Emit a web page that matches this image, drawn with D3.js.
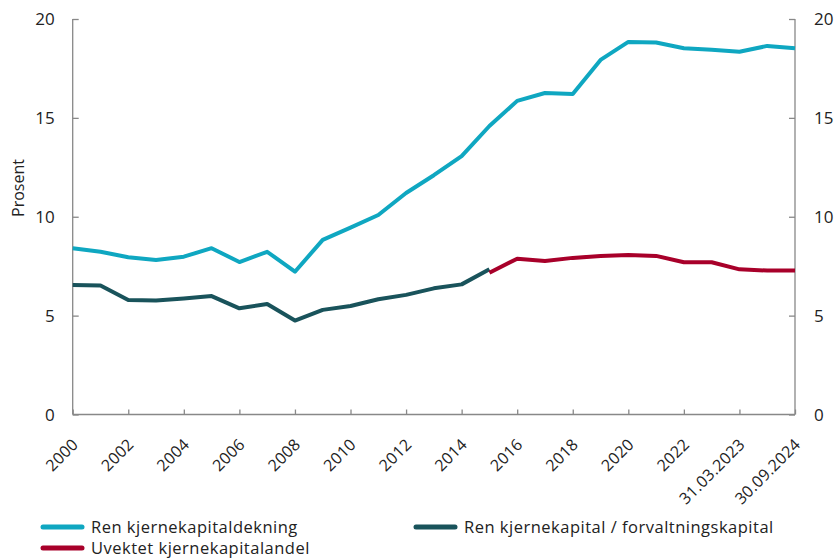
<!DOCTYPE html>
<html><head><meta charset="utf-8">
<script src="https://cdn.jsdelivr.net/npm/d3@7"></script>
<style>
body{margin:0;background:#fff;}
text{font-family:"Open Sans",sans-serif;fill:#222;}
</style></head>
<body><svg id="c" width="840" height="558"></svg>
<script>
const categories = ["2000","2001","2002","2003","2004","2005","2006","2007","2008","2009","2010","2011","2012","2013","2014","2015","2016","2017","2018","2019","2020","2021","2022","2023","31.03.2023","30.06.2024","30.09.2024"];
const renKjernekapitaldekning = [8.41,8.23,7.95,7.81,7.98,8.41,7.71,8.23,7.22,8.83,9.45,10.09,11.2,12.1,13.07,14.59,15.86,16.26,16.21,17.93,18.84,18.81,18.52,18.44,18.34,18.64,18.52];
const renKjernekapitalForvaltning = [6.55,6.52,5.79,5.76,5.86,5.99,5.37,5.59,4.75,5.29,5.49,5.83,6.05,6.38,6.58,7.34,null,null,null,null,null,null,null,null,null,null,null];
const uvektetKjernekapitalandel = [null,null,null,null,null,null,null,null,null,null,null,null,null,null,null,7.17,7.88,7.76,7.92,8.02,8.07,8.02,7.70,7.70,7.34,7.28,7.28];
const yTicks = [0,5,10,15,20];
const seriesNames = ["Ren kjernekapitaldekning","Ren kjernekapital / forvaltningskapital","Uvektet kjernekapitalandel"];
const colors = ["#0fa7c1","#19535b","#a8002a"];

const svg = d3.select("#c");
const L=72.7, R=795, T=19, B=414.5;
const x = d3.scalePoint().domain(categories).range([L,R]);
const y = d3.scaleLinear().domain([0,20]).range([B,T]);
const axisColor="#888";

const gl = svg.append("g").attr("transform",`translate(${L},0)`)
  .call(d3.axisLeft(y).tickValues(yTicks).tickSize(-6).tickPadding(18));
const gr = svg.append("g").attr("transform",`translate(${R},0)`)
  .call(d3.axisRight(y).tickValues(yTicks).tickSize(-6).tickPadding(19));
[gl,gr].forEach(g=>{
  g.select(".domain").attr("stroke",axisColor).attr("stroke-width",1.3).attr("d", `M0,${T}V${B}`);
  g.selectAll(".tick line").attr("stroke",axisColor).attr("stroke-width",1.3);
  g.selectAll(".tick text").style("font-size","17px").attr("fill","#222").attr("dy","0.35em");
});
const shown = categories.filter((d,i)=>i%2===0);
const gb = svg.append("g").attr("transform",`translate(0,${B})`)
  .call(d3.axisBottom(x).tickValues(shown).tickSize(-5).tickSizeOuter(0));
gb.select(".domain").attr("stroke",axisColor).attr("stroke-width",1.3).attr("d",`M${L},0H${R}`);
gb.selectAll(".tick line").attr("stroke",axisColor).attr("stroke-width",1.3);
gb.selectAll(".tick text").style("font-size","16px").style("letter-spacing","0.3px").attr("fill","#222")
  .attr("text-anchor","end").attr("dy",null).attr("y",0)
  .attr("transform","translate(6,31) rotate(-45)");

svg.append("text").attr("transform","translate(24,188) rotate(-90)")
  .attr("text-anchor","middle").style("font-size","16px").text("Prosent");

const line = d3.line().defined(d=>d.v!=null).x(d=>x(d.c)).y(d=>y(d.v));
[renKjernekapitaldekning,renKjernekapitalForvaltning,uvektetKjernekapitalandel].forEach((s,k)=>{
  svg.append("path").datum(categories.map((c,i)=>({c,v:s[i]})))
    .attr("d",line).attr("fill","none").attr("stroke",colors[k]).attr("stroke-width",4)
    .attr("stroke-linejoin","round");
});

const leg = [{i:0,x:43,y:527},{i:1,x:416,y:527},{i:2,x:43,y:548}];
leg.forEach(o=>{
  svg.append("line").attr("x1",o.x).attr("x2",o.x+39).attr("y1",o.y).attr("y2",o.y)
    .attr("stroke",colors[o.i]).attr("stroke-width",5).attr("stroke-linecap","round");
  svg.append("text").attr("x",o.x+48).attr("y",o.y).attr("dy","0.35em")
    .style("font-size","16.5px").style("letter-spacing","0.5px").text(seriesNames[o.i]);
});
</script></body></html>
